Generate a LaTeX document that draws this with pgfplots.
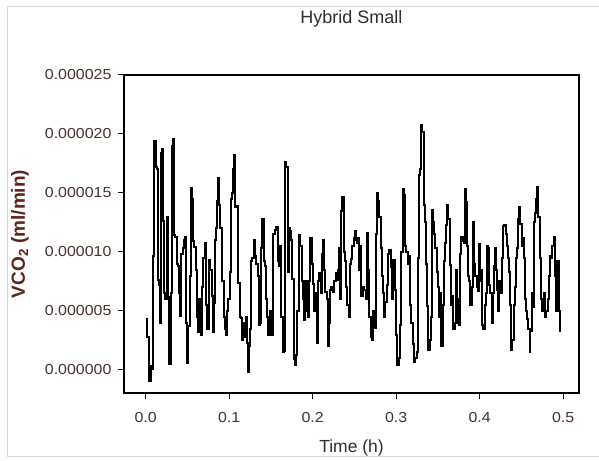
\documentclass[border=0pt]{standalone}
\usepackage{fontspec}
\setmainfont{Liberation Sans}
\newfontfamily\tickfont[FakeStretch=1.1]{Liberation Sans}
\usepackage{pgfplots}
\pgfplotsset{compat=1.18}
\usepackage{pgfplotstable}
\definecolor{tickc}{RGB}{70,50,45}
\definecolor{ylabc}{RGB}{95,35,25}
\definecolor{txtc}{RGB}{45,45,50}
\definecolor{framec}{RGB}{215,215,215}
\pgfplotstableread{
t v
0.0000 4.3
0.0018 2.8
0.0041 -0.9
0.0064 0.3
0.0078 0.1
0.0091 9.7
0.0105 19.4
0.0119 17.2
0.0132 17.0
0.0146 7.6
0.0160 7.2
0.0169 4.0
0.0183 18.4
0.0196 18.7
0.0210 12.6
0.0224 6.5
0.0237 6.0
0.0251 13.0
0.0265 6.2
0.0274 0.5
0.0297 6.5
0.0311 19.0
0.0329 19.6
0.0342 11.4
0.0356 11.3
0.0370 9.0
0.0384 8.8
0.0397 6.5
0.0406 4.6
0.0425 9.8
0.0443 10.3
0.0457 11.0
0.0470 11.3
0.0484 4.0
0.0498 0.6
0.0511 3.7
0.0530 8.0
0.0543 15.4
0.0557 14.5
0.0571 10.9
0.0584 10.4
0.0598 8.5
0.0612 4.5
0.0626 3.2
0.0639 6.0
0.0658 3.0
0.0671 7.0
0.0689 9.5
0.0708 10.8
0.0721 5.5
0.0740 3.5
0.0753 9.0
0.0763 9.3
0.0776 8.5
0.0790 6.3
0.0804 3.2
0.0817 5.7
0.0831 11.0
0.0845 12.0
0.0854 14.3
0.0868 16.3
0.0881 14.0
0.0895 12.0
0.0909 9.3
0.0918 7.5
0.0932 4.5
0.0945 3.5
0.0959 3.0
0.0973 5.0
0.0991 6.0
0.1005 8.3
0.1018 14.5
0.1032 15.0
0.1046 17.0
0.1059 18.2
0.1073 13.8
0.1087 13.9
0.1100 7.4
0.1119 7.4
0.1128 4.5
0.1142 4.4
0.1155 2.5
0.1169 4.0
0.1183 2.8
0.1196 4.5
0.1210 2.3
0.1224 -0.2
0.1237 2.0
0.1251 3.5
0.1265 9.2
0.1279 9.5
0.1292 11.0
0.1306 9.7
0.1324 9.0
0.1342 8.0
0.1356 3.8
0.1370 4.0
0.1384 10.3
0.1397 12.8
0.1411 9.2
0.1425 8.8
0.1443 6.0
0.1457 4.5
0.1470 3.0
0.1484 5.0
0.1498 3.5
0.1511 3.0
0.1530 11.5
0.1548 11.9
0.1566 12.1
0.1580 9.2
0.1594 8.8
0.1607 10.5
0.1626 4.5
0.1639 1.5
0.1653 1.6
0.1671 17.6
0.1685 17.2
0.1703 8.3
0.1717 12.0
0.1731 11.8
0.1744 11.0
0.1758 7.7
0.1772 0.9
0.1785 0.4
0.1799 1.3
0.1813 5.0
0.1836 11.4
0.1849 10.5
0.1868 7.5
0.1881 6.0
0.1895 4.2
0.1909 7.5
0.1927 5.0
0.1941 4.5
0.1954 7.5
0.1973 11.2
0.1986 9.0
0.2000 7.3
0.2014 5.0
0.2027 6.5
0.2046 2.3
0.2064 7.5
0.2078 8.2
0.2096 6.5
0.2110 9.8
0.2123 11.0
0.2137 8.5
0.2151 6.6
0.2169 6.0
0.2183 2.0
0.2196 4.0
0.2210 6.8
0.2224 7.0
0.2242 6.6
0.2256 7.5
0.2274 8.2
0.2288 7.6
0.2301 8.5
0.2315 10.3
0.2329 6.0
0.2342 13.5
0.2356 14.7
0.2370 10.0
0.2388 9.2
0.2402 7.0
0.2416 5.5
0.2434 4.5
0.2447 9.0
0.2461 9.4
0.2475 10.5
0.2489 11.2
0.2502 11.8
0.2516 11.0
0.2530 10.8
0.2543 11.2
0.2557 8.5
0.2571 10.5
0.2584 6.3
0.2598 7.0
0.2616 6.8
0.2635 6.0
0.2653 11.6
0.2667 8.5
0.2680 4.5
0.2699 2.8
0.2712 2.5
0.2726 5.0
0.2740 3.6
0.2758 11.5
0.2772 15.0
0.2785 14.3
0.2799 13.0
0.2813 10.3
0.2826 8.0
0.2845 6.5
0.2858 4.5
0.2872 5.8
0.2890 7.2
0.2904 9.8
0.2918 10.2
0.2936 8.7
0.2950 6.0
0.2968 9.3
0.2986 6.8
0.3000 3.0
0.3014 0.4
0.3032 1.0
0.3046 3.8
0.3059 10.0
0.3078 15.3
0.3091 14.8
0.3110 10.5
0.3123 10.0
0.3137 9.0
0.3155 9.7
0.3169 5.5
0.3183 4.0
0.3196 2.2
0.3210 0.7
0.3228 1.0
0.3247 1.5
0.3260 9.5
0.3274 16.5
0.3288 17.0
0.3301 20.8
0.3315 20.2
0.3329 14.0
0.3342 12.5
0.3356 9.0
0.3370 5.4
0.3384 1.7
0.3402 2.5
0.3416 4.5
0.3429 13.6
0.3443 12.5
0.3457 11.5
0.3470 10.3
0.3484 8.3
0.3498 7.0
0.3511 4.5
0.3525 6.5
0.3539 2.0
0.3557 5.5
0.3571 9.2
0.3584 10.8
0.3598 12.3
0.3612 14.0
0.3626 12.8
0.3639 8.9
0.3653 5.5
0.3667 6.3
0.3680 3.5
0.3699 4.0
0.3712 8.5
0.3726 6.0
0.3740 4.0
0.3753 3.8
0.3767 9.8
0.3781 11.3
0.3795 10.9
0.3808 10.8
0.3822 15.3
0.3836 14.2
0.3849 10.5
0.3863 8.0
0.3877 7.5
0.3890 5.5
0.3909 7.0
0.3922 12.5
0.3936 9.0
0.3950 8.0
0.3963 7.0
0.3977 6.7
0.3991 10.7
0.4005 7.5
0.4018 8.5
0.4032 3.8
0.4046 3.5
0.4059 5.5
0.4073 6.5
0.4087 10.5
0.4100 10.3
0.4114 7.2
0.4128 6.5
0.4142 4.0
0.4155 6.5
0.4169 8.8
0.4183 10.3
0.4196 8.5
0.4210 6.8
0.4224 5.0
0.4237 7.5
0.4251 6.5
0.4269 9.5
0.4283 12.2
0.4297 12.3
0.4311 11.5
0.4324 10.5
0.4338 9.5
0.4352 8.3
0.4365 5.5
0.4379 1.7
0.4393 2.5
0.4406 5.5
0.4420 7.0
0.4434 9.5
0.4447 10.3
0.4461 12.8
0.4475 13.8
0.4489 12.4
0.4502 10.5
0.4516 11.2
0.4530 9.5
0.4543 6.0
0.4557 5.0
0.4571 4.3
0.4584 3.5
0.4598 1.5
0.4607 3.3
0.4621 6.5
0.4635 5.3
0.4648 12.5
0.4662 13.3
0.4676 14.5
0.4689 15.5
0.4703 13.0
0.4717 9.5
0.4731 6.0
0.4744 5.0
0.4758 5.3
0.4772 6.5
0.4785 4.5
0.4799 5.0
0.4813 6.0
0.4826 8.0
0.4845 9.7
0.4858 9.5
0.4872 10.5
0.4886 11.3
0.4900 8.0
0.4913 5.0
0.4927 9.2
0.4941 9.2
0.4950 5.0
0.4960 3.2
}\vcodata
\begin{document}
\begin{tikzpicture}
\useasboundingbox (-124pt,-67pt) rectangle (475pt,393pt);
\draw[framec, line width=1pt] (475pt,386pt) -- (-116pt,386pt) -- (-116pt,-63pt) -- (475pt,-63pt);
\begin{axis}[
  at={(0pt,0pt)}, anchor=south west,
  scale only axis, width=455pt, height=318pt,
  xmin=-0.026, xmax=0.519,
  ymin=-1.95, ymax=25,
  axis line style={black, line width=1.1pt},
  tick align=outside, xtick pos=bottom, ytick pos=left,
  major tick length=6pt,
  tick style={black, line width=1pt},
  xtick={0,0.1,0.2,0.3,0.4,0.5},
  /pgf/number format/.cd, fixed, fixed zerofill, precision=1, assume math mode=true,
  /pgfplots/.cd,
  ytick={0,5,10,15,20,25},
  yticklabels={0.000000,0.000005,0.000010,0.000015,0.000020,0.000025},
  ticklabel style={font=\tickfont\fontsize{14.5}{16}\selectfont, text=tickc},
  xticklabel style={yshift=-10pt},
  yticklabel style={xshift=-3pt},
  xlabel={Time (h)},
  ylabel={\textbf{VCO\textsubscript{2} (ml/min)}},
  xlabel style={at={(axis description cs:0.5,0)}, anchor=center, yshift=-55pt, font=\fontsize{17.5}{19}\selectfont, text=txtc},
  ylabel style={at={(axis description cs:0,0.5)}, anchor=center, yshift=104pt, font=\fontsize{19}{21}\selectfont, text=ylabc},
  title={Hybrid Small},
  title style={at={(axis description cs:0.5,1)}, anchor=center, yshift=50pt, font=\fontsize{18}{20}\selectfont, text=txtc},
]
\addplot[const plot, black, line width=2pt] table[x=t, y=v] {\vcodata};
\end{axis}
\end{tikzpicture}
\end{document}
